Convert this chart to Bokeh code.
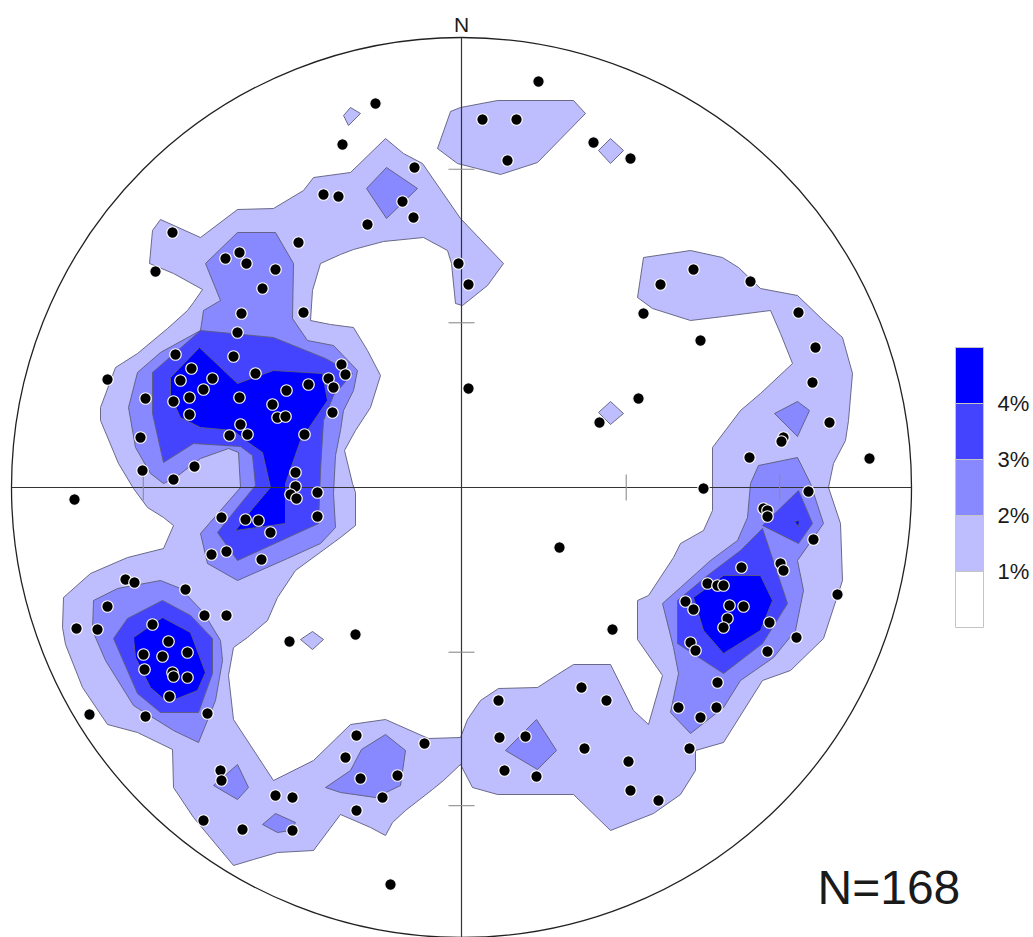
import math
from bokeh.plotting import figure
from bokeh.models import Range1d
from bokeh.core.properties import value
from bokeh.embed import file_html
from bokeh.resources import INLINE

# Equal-area (Schmidt) lower-hemisphere net, radius 450 plot units, x east / y north
NET_R = 450

# Pole positions (projected x, y)
poles = [
    (77, 406), (-86, 384), (21, 368), (55, 368), (132, 345), (169, 329), (46, 327),
    (-119, 343), (-47, 320), (-138, 293), (-123, 291), (-59, 286), (-48, 270), (-94, 263),
    (-289, 255), (-163, 245), (-306, 216), (-222, 235), (-236, 229), (-215, 224), (-186, 218),
    (-199, 199), (-220, 174), (-158, 175), (-3, 224), (7, 203), (199, 203), (182, 174),
    (232, 218), (289, 206), (337, 175),
    (-224, 155), (-286, 133), (-228, 131), (-354, 108), (-270, 119), (-281, 107), (-249, 109),
    (-258, 98), (-206, 114), (-120, 123), (-116, 113), (-133, 109), (-128, 100), (-153, 103),
    (-175, 97), (-316, 89), (-288, 86), (-272, 90), (-222, 90), (-189, 83), (-184, 70),
    (-176, 71), (-272, 73), (-129, 75), (-221, 63), (-232, 52), (-214, 53), (-157, 53),
    (-321, 50), (-267, 21), (-319, 17), (-288, 8), (-166, 15), (-166, 1), (-171, -7),
    (-165, -11), (-144, -5), (-387, -12), (-240, -30), (-216, -32), (-203, -33), (-144, -29),
    (-191, -45), (-250, -67), (-235, -64), (-200, -72),
    (-336, -92), (-327, -95), (-276, -102), (-354, -119), (-257, -128), (-235, -128),
    (-385, -141), (-364, -142), (-309, -137), (-293, -154), (-318, -167), (-299, -169),
    (-274, -165), (-317, -182), (-289, -185), (-288, -189), (-274, -190), (-292, -209),
    (-372, -227), (-316, -229), (-254, -226), (-172, -154),
    (-241, -283), (-240, -293), (-186, -308), (-169, -310), (-258, -333), (-219, -342),
    (-169, -343), (-106, -147), (-105, -248), (-37, -256), (-116, -270), (-101, -291),
    (-64, -288), (-79, -310), (-105, -323), (-71, -397),
    (7, 99), (177, 89), (138, 65), (98, -60), (151, -142),
    (239, 147), (354, 140), (351, 105), (368, 65), (322, 50), (320, 46), (288, 30),
    (408, 29), (242, -1), (347, -4), (302, -21), (306, -23), (306, -29), (352, -52),
    (319, -76), (322, -83), (280, -80), (246, -96), (256, -98), (262, -98), (376, -107),
    (224, -114), (232, -122), (268, -118), (282, -119), (266, -131), (262, -140),
    (308, -135), (335, -150), (229, -155), (234, -163), (306, -164), (256, -195),
    (217, -220), (255, -220), (239, -230), (228, -261),
    (120, -200), (145, -213), (37, -213), (38, -250), (64, -249), (123, -261), (43, -283),
    (75, -289), (167, -274), (169, -303), (197, -313),
]

# Contour levels (% of poles per 1% of net area) and their fills
levels = [1, 2, 3, 4]
level_colors = ["#bebeff", "#8888ff", "#4444ff", "#0000ff"]

# Contour outlines for each level (closed rings)
contours_1 = [
    [(-76, 349), (-58, 334), (-39, 324), (-1, 269), (42, 224), (26, 202), (1, 182), (-6, 184),
     (-10, 224), (-14, 237), (-38, 250), (-78, 246), (-108, 238), (-121, 233), (-141, 224),
     (-149, 197), (-151, 167), (-131, 163), (-108, 160), (-94, 137), (-81, 112), (-91, 80),
     (-106, 57), (-117, 37), (-109, 4), (-106, -5), (-106, -38), (-121, -50), (-166, -83),
     (-184, -110), (-194, -133), (-214, -150), (-228, -160), (-233, -188), (-228, -232),
     (-188, -293), (-148, -273), (-111, -237), (-76, -232), (-33, -251), (-1, -250), (6, -232),
     (19, -213), (37, -201), (76, -200), (96, -187), (112, -177), (149, -177), (172, -223),
     (187, -237), (201, -188), (176, -152), (176, -113), (187, -108), (212, -70), (219, -56),
     (242, -43), (251, -23), (251, 40), (279, 77), (299, 94), (331, 124), (319, 154),
     (309, 177), (262, 171), (229, 167), (191, 179), (176, 190), (182, 230), (229, 237),
     (261, 230), (277, 220), (299, 199), (336, 192), (362, 167), (381, 150), (391, 114),
     (387, 67), (384, 47), (372, 24), (367, 0), (379, -36), (381, -93), (362, -151),
     (329, -183), (301, -193), (262, -255), (234, -263), (234, -283), (219, -307),
     (192, -326), (149, -343), (112, -307), (36, -307), (11, -300), (-1, -277), (-18, -293),
     (-29, -302), (-56, -323), (-69, -335), (-76, -348), (-91, -340), (-121, -327),
     (-148, -363), (-184, -365), (-208, -372), (-228, -378), (-268, -330), (-288, -300),
     (-289, -262), (-324, -245), (-354, -237), (-379, -200), (-396, -157), (-399, -140),
     (-398, -110), (-371, -86), (-334, -70), (-298, -61), (-288, -38), (-298, -30),
     (-314, -20), (-328, -1), (-343, 24), (-361, 67), (-361, 80), (-346, 120), (-324, 134),
     (-294, 159), (-274, 177), (-268, 185), (-259, 198), (-288, 214), (-312, 224),
     (-309, 257), (-301, 268), (-261, 250), (-224, 278), (-188, 279), (-158, 297),
     (-148, 310), (-111, 315)],
    [(-24, 339), (-11, 376), (-1, 380), (36, 387), (112, 387), (124, 374), (76, 325),
     (39, 313), (-4, 324)],
    [(-118, 372), (-111, 380), (-101, 374), (-113, 362)],
    [(137, 337), (149, 349), (162, 337), (149, 324)],
    [(137, 75), (149, 86), (162, 74), (149, 63)],
    [(-161, -152), (-149, -144), (-138, -152), (-149, -162)],
]

contours_2 = [
    [(-95, 299), (-75, 320), (-44, 299), (-75, 269)],
    [(-224, 255), (-186, 255), (-168, 224), (-169, 169), (-154, 147), (-128, 142), (-104, 117),
     (-108, 97), (-118, 77), (-121, 57), (-126, 32), (-128, -6), (-126, -40), (-141, -56),
     (-174, -71), (-224, -93), (-254, -76), (-261, -46), (-241, -23), (-221, 0), (-223, 35),
     (-233, 39), (-261, 29), (-286, 10), (-298, 4), (-311, 14), (-326, 40), (-333, 80),
     (-324, 115), (-301, 135), (-261, 157), (-258, 177), (-241, 187), (-256, 224)],
    [(-368, -113), (-344, -101), (-301, -93), (-281, -101), (-258, -125), (-241, -153),
     (-239, -173), (-246, -213), (-263, -255), (-288, -243), (-328, -218), (-356, -173),
     (-369, -143)],
    [(-248, -298), (-224, -277), (-213, -300), (-224, -312)],
    [(-199, -337), (-186, -326), (-166, -335), (-171, -343), (-184, -345)],
    [(-136, -300), (-111, -283), (-100, -262), (-76, -247), (-56, -263), (-61, -298),
     (-86, -310), (-121, -305)],
    [(44, -263), (75, -232), (95, -263), (76, -282)],
    [(313, 74), (336, 86), (348, 77), (336, 51)],
    [(297, 22), (336, 30), (349, 4), (362, -36), (336, -73), (342, -103), (334, -143),
     (312, -170), (279, -193), (262, -220), (229, -246), (209, -225), (217, -186),
     (212, -160), (201, -116), (219, -100), (249, -73), (276, -53), (286, -30), (289, 4)],
]

contours_3 = [
    [(-309, 115), (-261, 157), (-188, 150), (-136, 129), (-109, 114), (-128, 92), (-138, 67),
     (-141, 17), (-143, -36), (-224, -73), (-244, -45), (-224, -20), (-206, 2), (-209, 32),
     (-221, 41), (-268, 44), (-298, 25), (-309, 74)],
    [(-348, -151), (-334, -131), (-299, -113), (-271, -128), (-249, -151), (-249, -186),
     (-263, -225), (-301, -225), (-324, -206)],
    [(301, -38), (337, -3), (351, -36), (337, -56)],
    [(301, -41), (326, -116), (301, -156), (262, -186), (216, -156), (216, -113),
     (246, -88), (279, -63)],
]

contours_4 = [
    [(-291, 110), (-262, 140), (-224, 104), (-188, 117), (-139, 114), (-134, 87), (-161, 47),
     (-176, 4), (-176, -36), (-226, -43), (-208, -20), (-191, 0), (-199, 35), (-216, 47),
     (-228, 57), (-261, 60), (-281, 70), (-291, 92)],
    [(-328, -150), (-299, -130), (-271, -145), (-256, -185), (-264, -203), (-294, -215),
     (-311, -200), (-326, -170)],
    [(262, -88), (299, -88), (311, -113), (299, -143), (262, -166), (242, -143), (232, -110)],
    [(333, -34), (338, -33), (337, -39)],
]

# Plunge circles marked by ticks on the N-S and E-W diameters
tick_plunges = [30, 60]

FONT = "Liberation Sans"
TEXT_COLOR = "#1a1a1a"

p = figure(width=1033, height=937, x_range=Range1d(-461, 572), y_range=Range1d(-450, 487),
           output_backend="svg", toolbar_location=None, min_border=0,
           x_axis_location=None, y_axis_location=None, title=None)
p.grid.visible = False
p.outline_line_color = None
p.background_fill_color = "white"
p.border_fill_color = "white"

# filled contours, lowest level first
for rings, colour in zip([contours_1, contours_2, contours_3, contours_4], level_colors):
    p.patches(xs=[[pt[0] for pt in ring] for ring in rings],
              ys=[[pt[1] for pt in ring] for ring in rings],
              fill_color=colour, line_color="#5c5c7a", line_width=0.9)

# primitive circle and diameters
p.circle(x=[0], y=[0], radius=NET_R, fill_color=None, line_color="#222222", line_width=1.3)
p.segment(x0=[0, -NET_R], y0=[-NET_R, 0], x1=[0, NET_R], y1=[NET_R, 0],
          line_color="#333333", line_width=1.2)

# plunge ticks (equal-area radius of each plunge)
tick_half = 13
tx0, ty0, tx1, ty1 = [], [], [], []
for pl in tick_plunges:
    r = NET_R * math.sqrt(2) * math.sin(math.radians(90 - pl) / 2)
    for s in (-1, 1):
        tx0 += [-tick_half, s * r]
        ty0 += [s * r, -tick_half]
        tx1 += [tick_half, s * r]
        ty1 += [s * r, tick_half]
p.segment(x0=tx0, y0=ty0, x1=tx1, y1=ty1, line_color="#8c8c8c", line_width=1.1)

# poles
p.scatter(x=[pt[0] for pt in poles], y=[pt[1] for pt in poles], size=11.5, marker="circle",
          fill_color="black", line_color="white", line_width=1.2)

# north label
p.text(x=[0], y=[NET_R + 13], text=["N"], text_font=value(FONT), text_font_size="21px",
       text_align="center", text_baseline="alphabetic", text_color=TEXT_COLOR)

# colour scale
bar_left, bar_right = 494, 522
bar_top, box_h = 140, 56
band_colors = ["white"] + level_colors
n_bands = len(band_colors)
p.quad(left=[bar_left] * n_bands, right=[bar_right] * n_bands,
       bottom=[bar_top - (n_bands - i) * box_h for i in range(n_bands)],
       top=[bar_top - (n_bands - i - 1) * box_h for i in range(n_bands)],
       fill_color=band_colors, line_color="#c4c4c4", line_width=1)
p.text(x=[bar_right + 14] * len(levels),
       y=[bar_top - n_bands * box_h + k * box_h for k in levels],
       text=[f"{k}%" for k in levels], text_font=value(FONT), text_font_size="22px",
       text_align="left", text_baseline="middle", text_color=TEXT_COLOR)

# sample size
p.text(x=[356], y=[-400], text=[f"N={len(poles)}"], text_font=value(FONT),
       text_font_size="48px", text_align="left", text_baseline="alphabetic",
       text_color=TEXT_COLOR)

open("out.html", "w").write(file_html(p, INLINE))
